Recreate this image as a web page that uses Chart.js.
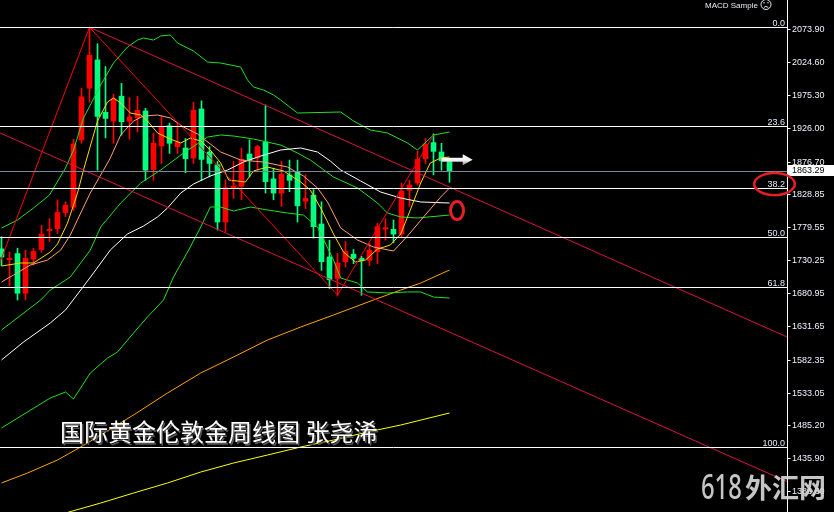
<!DOCTYPE html>
<html>
<head>
<meta charset="utf-8">
<script src="https://cdn.jsdelivr.net/npm/chart.js@4.4.1/dist/chart.umd.min.js"></script>
<style>
  html, body { margin: 0; padding: 0; background: #000; overflow: hidden; }
  canvas { display: block; }
</style>
</head>
<body>
<canvas id="c" width="834" height="512"></canvas>
<script>
// Weekly XAUUSD bars (one entry per week)
const opens  = [1747,1731,1740,1681,1732,1746,1774,1777,1801,1809,1909,1986,2028,1950,1937,1974,1937,1942,1952,1865,1900,1930,1899,1897,1882,1955,1891,1872,1787,1838,1840,1888,1882,1906,1851,1830,1857,1862,1818,1827,1784,1735,1703,1728,1739,1733,1730,1743,1776.5,1776,1769,1834,1845,1881,1905,1891,1877.6];
const highs  = [1765,1742,1748,1745,1748,1782,1792,1820,1817,1910,1986,2076.5,2052,2018,1977,1993,1972,1974,1956,1919,1945,1934,1934,1911,1965,1967,1899,1877,1849,1877,1897,1909,1901,1961,1867,1877,1879,1879,1857,1835,1817,1760,1740,1758,1746,1736,1755,1785,1792,1790,1845,1849,1892,1911,1918,1904,1878];
const lows   = [1722,1692,1671,1671,1723,1742,1758,1770,1795,1804,1904,1965,1864,1912,1904,1916,1910,1921,1849,1849,1874,1889,1889,1860,1874,1849,1854,1775,1773,1822,1820,1854,1864,1830,1820,1810,1832,1787,1807,1763,1715,1688,1677,1720,1725,1678,1722,1725,1760,1756,1765,1810,1842,1874,1857,1864,1846];
const closes = [1735,1733,1681,1733,1743,1769,1776,1801,1812,1903,1973,2035,1944,1941,1970,1936,1943,1953,1864,1904,1929,1904,1906,1881,1953,1880,1874,1787,1838,1840,1880,1879,1899,1847,1830,1858,1849,1811,1822,1780,1728,1701,1726,1743,1733,1730,1745,1780,1778.5,1769,1833,1842,1880,1903,1892,1878,1863.29];
const lastPrice = 1863.29;

// Indicator curves as [bar, price]
const bandUpper = [[0,1778.0],[2,1789.9],[4,1807.7],[6,1827.1],[8,1867.2],[9,1894.0],[10.25,1941.6],[12.4,1990.6],[14,2023.3],[15.75,2047.1],[17,2057.5],[17.75,2060.5],[19,2057.5],[19.9,2063.5],[21.1,2065.0],[22,2053.1],[23.25,2045.6],[24,2041.2],[25.75,2024.8],[27.4,2023.3],[29.9,2017.4],[30.75,1998.1],[31.5,1987.6],[32.75,1983.2],[34,1975.8],[34.9,1968.3],[37,1949.0],[42.4,1950.5],[44,1937.1],[46.1,1923.7],[48.25,1919.3],[50.75,1904.4],[52,1894.0],[54,1916.3],[56,1920.7]];
const bandMid = [[0,1626.4],[4.9,1671.0],[6.1,1685.8],[8.6,1705.2],[11.1,1745.3],[12.4,1779.5],[14.9,1815.2],[17.4,1844.9],[19.9,1864.2],[22.75,1889.5],[25.75,1913.3],[27.4,1916.3],[29,1914.8],[31.5,1910.3],[34.9,1901.4],[37,1889.5],[38.6,1879.1],[41.5,1853.8],[44.5,1837.5],[47,1815.2],[48.25,1800.3],[49.9,1794.4],[52,1792.9],[56,1797.3]];
const bandLower = [[0,1480.7],[6.1,1525.3],[8,1534.2],[9,1523.8],[11.1,1562.4],[13.25,1584.7],[14.5,1593.6],[16.5,1621.9],[18.25,1645.7],[20.25,1671.0],[21.5,1705.2],[23.6,1749.8],[24.9,1779.5],[26.1,1809.2],[27.4,1809.2],[29,1803.3],[31.1,1809.2],[33.25,1804.8],[35.75,1800.3],[37.75,1797.3],[39.5,1779.5],[41.5,1730.4],[42.4,1703.7],[44.5,1696.2],[45.75,1682.9],[48.25,1681.4],[50.75,1682.9],[52.4,1682.9],[54,1675.4],[56,1673.9]];
const ma5 = [[0,1721.5],[2.4,1726.0],[4,1726.0],[6.1,1742.3],[7,1754.2],[8.25,1785.4],[9.5,1830.0],[10.25,1864.2],[12,1937.1],[13.25,1965.3],[14,1971.3],[14.9,1963.9],[16.1,1949.0],[17.4,1946.0],[18.25,1937.1],[19.5,1919.3],[21.1,1910.3],[22.4,1904.4],[23.6,1911.8],[24.9,1907.4],[26.1,1894.0],[27.4,1874.7],[28.4,1849.4],[30.5,1846.4],[31.5,1862.8],[33.25,1868.7],[35.25,1862.8],[37.4,1846.4],[38.6,1834.5],[39.9,1807.7],[41.5,1769.1],[42.75,1742.3],[44.25,1727.5],[45.5,1730.4],[47,1746.8],[48.6,1752.7],[49.9,1769.1],[51.1,1804.8],[52.4,1844.9],[53.6,1874.7],[54.9,1882.1],[56,1883.6]];
const ma10 = [[0,1697.7],[1.5,1708.1],[3.6,1723.0],[5.75,1730.4],[7.4,1745.3],[8.6,1767.6],[9.9,1800.3],[11.1,1830.0],[12.4,1856.8],[13.6,1882.1],[14.9,1916.3],[16.5,1937.1],[17.75,1944.5],[19.5,1946.0],[21.1,1941.6],[22.75,1928.2],[24.5,1917.8],[26.1,1902.9],[27.4,1891.0],[29.9,1879.1],[32.75,1876.1],[35.75,1868.7],[37.75,1855.3],[39.5,1837.5],[40.75,1816.7],[42.4,1778.0],[44.5,1760.2],[46.5,1749.8],[49,1743.8],[50.75,1766.1],[52.75,1794.4],[54.9,1824.1],[56,1837.5]];
const ma30 = [[0,1581.8],[2.75,1608.5],[6.1,1636.8],[8,1656.1],[9.9,1685.8],[11.5,1711.1],[13.6,1745.3],[15.75,1769.1],[17.75,1781.0],[19.5,1794.4],[20.75,1807.7],[22.4,1830.0],[24,1843.4],[26.1,1855.3],[28.25,1864.2],[30.25,1876.1],[32.4,1885.1],[34.9,1894.0],[37.4,1897.0],[39.5,1891.0],[41.1,1877.6],[42.4,1864.3],[44.9,1847.9],[47.4,1831.5],[49.9,1822.6],[52.4,1816.7],[56,1815.2]];
const ma100 = [[0,1398.9],[3.25,1413.7],[7,1433.1],[9.9,1452.4],[12.4,1470.2],[16.5,1500.0],[20.75,1532.7],[24.9,1562.4],[29,1586.2],[33.25,1611.5],[37.4,1630.8],[41.5,1648.7],[46.5,1671.0],[49.9,1685.8],[52.4,1696.2],[56,1715.6]];
const ma200 = [[8,1354.3],[12.4,1369.1],[16.5,1384.0],[20.75,1398.9],[24.9,1415.2],[29,1428.6],[33.25,1440.5],[37.4,1452.4],[41.5,1462.8],[45.75,1474.7],[49.9,1485.1],[56,1503.0]];

// Drawn objects: fibo anchor line, channel, swings
const fiboLine      = [[-9,1452.0],[11,2076.5]];
const channelTop    = [[11,2076.5],[98.19,1616.0]];
const channelBottom = [[-0.19,1919.3],[98.19,1401.0]];
const swingDown     = [[11,2076.5],[42,1678.4]];
const swingUp       = [[42,1678.4],[54,1916.0]];

// Fibonacci retracement levels
const fibLabels = ['0.0','23.6','38.2','50.0','61.8','100.0'];
const fibPrices = [2076.5,1929.2,1838.0,1764.3,1690.6,1452.0];

// Price axis ticks
const yTicks = [2073.90,2024.60,1975.30,1926.00,1876.70,1828.85,1779.55,1730.25,1680.95,1631.65,1582.35,1533.05,1485.20,1435.90,1386.60];

const bars = closes.map((_, i) => i);
const candleColors = bars.map(i => closes[i] >= opens[i] ? '#ff0000' : '#00ff7f');
const pts = arr => arr.map(([x, y]) => ({x, y}));

function lineSet(arr, color, order) {
  return { type: 'line', data: pts(arr), borderColor: color, borderWidth: 1,
           pointRadius: 0, tension: 0, fill: false, order };
}

const AXIS_FONT = '9px "Liberation Sans", Arial, sans-serif';

const overlay = {
  id: 'overlay',
  beforeDraw(chart) {
    const ctx = chart.ctx;
    ctx.save();
    ctx.fillStyle = '#000';
    ctx.fillRect(0, 0, chart.width, chart.height);
    ctx.restore();
  },
  afterDatasetsDraw(chart) {
    const { ctx, chartArea: a, scales: { y } } = chart;
    ctx.save();
    // retracement levels
    ctx.lineWidth = 1;
    ctx.font = AXIS_FONT;
    ctx.textAlign = 'right';
    ctx.textBaseline = 'alphabetic';
    fibPrices.forEach((p, i) => {
      const py = Math.round(y.getPixelForValue(p)) + 0.5;
      ctx.strokeStyle = '#ffffff';
      ctx.beginPath(); ctx.moveTo(a.left, py); ctx.lineTo(a.right, py); ctx.stroke();
      ctx.fillStyle = '#e4ecf6';
      ctx.fillText(fibLabels[i], a.right - 2, py - 2);
    });
    // bid line
    const by = Math.round(y.getPixelForValue(lastPrice)) + 0.5;
    ctx.strokeStyle = '#7a8799';
    ctx.beginPath(); ctx.moveTo(a.left, by); ctx.lineTo(a.right, by); ctx.stroke();
    ctx.restore();
  },
  afterDraw(chart) {
    const { ctx, chartArea: a, scales: { x, y } } = chart;
    ctx.save();

    // price axis
    const ax = a.right + 0.5;
    ctx.strokeStyle = '#ffffff';
    ctx.lineWidth = 1;
    ctx.beginPath(); ctx.moveTo(ax, 0); ctx.lineTo(ax, chart.height); ctx.stroke();
    ctx.font = AXIS_FONT;
    ctx.textAlign = 'left';
    ctx.textBaseline = 'middle';
    yTicks.forEach(v => {
      const py = Math.round(y.getPixelForValue(v)) + 0.5;
      ctx.beginPath(); ctx.moveTo(ax, py); ctx.lineTo(ax + 3, py); ctx.stroke();
      ctx.fillStyle = '#f0f4ff';
      ctx.fillText(v.toFixed(2), a.right + 5, py);
    });
    // last price tag
    const ly = Math.round(y.getPixelForValue(lastPrice));
    ctx.fillStyle = '#ffffff';
    ctx.fillRect(a.right + 1, ly - 6, chart.width - a.right - 1, 11);
    ctx.fillStyle = '#000000';
    ctx.fillText(lastPrice.toFixed(2), a.right + 5, ly);

    // expert label with face icon
    ctx.font = '8px "Liberation Sans", Arial, sans-serif';
    ctx.textBaseline = 'alphabetic';
    ctx.fillStyle = '#e6edf5';
    ctx.fillText('MACD Sample', 705, 8);
    ctx.strokeStyle = '#e6edf5';
    ctx.lineWidth = 1;
    ctx.beginPath(); ctx.arc(766, 4.5, 5, 0, Math.PI * 2); ctx.stroke();
    ctx.fillRect(763.5, 2, 1, 1.5);
    ctx.fillRect(767.5, 2, 1, 1.5);
    ctx.beginPath(); ctx.arc(766, 9, 2.5, Math.PI * 1.15, Math.PI * 1.85); ctx.stroke();

    // arrow next to the last bar
    const x0 = x.getPixelForValue(55.0), x1 = x.getPixelForValue(58.9);
    const yc = y.getPixelForValue(1879.6);
    const g = ctx.createLinearGradient(0, yc - 5, 0, yc + 5);
    g.addColorStop(0, '#ffffff'); g.addColorStop(0.55, '#f4f4f4'); g.addColorStop(1, '#9a9a9a');
    ctx.fillStyle = g;
    ctx.beginPath();
    ctx.moveTo(x0, yc - 2);
    ctx.lineTo(x1 - 10, yc - 2);
    ctx.lineTo(x1 - 10, yc - 5.5);
    ctx.lineTo(x1, yc);
    ctx.lineTo(x1 - 10, yc + 5.5);
    ctx.lineTo(x1 - 10, yc + 2);
    ctx.lineTo(x0, yc + 2);
    ctx.closePath();
    ctx.fill();

    // red markers
    ctx.strokeStyle = '#e61e25';
    ctx.lineWidth = 3;
    ctx.beginPath();
    ctx.ellipse(x.getPixelForValue(56.94), y.getPixelForValue(1804.0), 6.5, 9, 0, 0, Math.PI * 2);
    ctx.stroke();
    ctx.lineWidth = 2.5;
    ctx.beginPath();
    ctx.ellipse(a.right - 12.5, y.getPixelForValue(1843.4), 20.3, 11, 0, 0, Math.PI * 2);
    ctx.stroke();

    // caption
    ctx.font = '24px "Noto Sans CJK SC", sans-serif';
    ctx.textAlign = 'left';
    ctx.textBaseline = 'alphabetic';
    ctx.fillStyle = '#555555';
    ctx.fillText('国际黄金伦敦金周线图 张尧浠', 61.5, 442.5);
    ctx.fillStyle = '#ffffff';
    ctx.fillText('国际黄金伦敦金周线图 张尧浠', 60, 441);

    // site mark
    ctx.fillStyle = 'rgba(214,214,214,0.92)';
    ctx.save();
    ctx.translate(701, 499);
    ctx.scale(0.7, 1);
    ctx.font = '500 34px "Noto Sans", sans-serif';
    ctx.fillText('618', 0, 0);
    ctx.restore();
    ctx.font = 'bold 27px "Noto Sans CJK SC", sans-serif';
    ctx.fillText('外汇网', 745, 498);

    ctx.restore();
  }
};

new Chart(document.getElementById('c'), {
  type: 'bar',
  data: {
    datasets: [
      { type: 'bar', data: bars.map(i => ({ x: i, y: [lows[i], highs[i]] })),
        backgroundColor: candleColors, barThickness: 1, grouped: false, order: 30 },
      { type: 'bar', data: bars.map(i => ({ x: i, y: [opens[i], closes[i]] })),
        backgroundColor: candleColors, barThickness: 5, grouped: false, minBarLength: 1, order: 29 },
      lineSet(ma200, '#ffff00', 20),
      lineSet(ma100, '#ffa500', 19),
      lineSet(bandLower, '#22e022', 18),
      lineSet(bandMid, '#22e022', 17),
      lineSet(bandUpper, '#22e022', 16),
      lineSet(ma30, '#ffffff', 15),
      lineSet(ma10, '#ffa07a', 14),
      lineSet(ma5, '#ffd700', 13),
      lineSet(fiboLine, '#ff0000', 5),
      lineSet(channelTop, '#dc143c', 4),
      lineSet(channelBottom, '#dc143c', 3),
      lineSet(swingDown, '#ff0000', 2),
      lineSet(swingUp, '#ff0000', 1)
    ]
  },
  options: {
    responsive: false,
    devicePixelRatio: 1,
    animation: false,
    events: [],
    layout: { padding: { left: 0, top: 0, bottom: 0, right: 47 } },
    plugins: { legend: { display: false }, tooltip: { enabled: false }, title: { display: false } },
    scales: {
      x: { type: 'linear', min: -0.1875, max: 98.1875, offset: false, display: false },
      y: { type: 'linear', min: 1355.78, max: 2117.02, display: false }
    }
  },
  plugins: [overlay]
});
</script>
</body>
</html>
